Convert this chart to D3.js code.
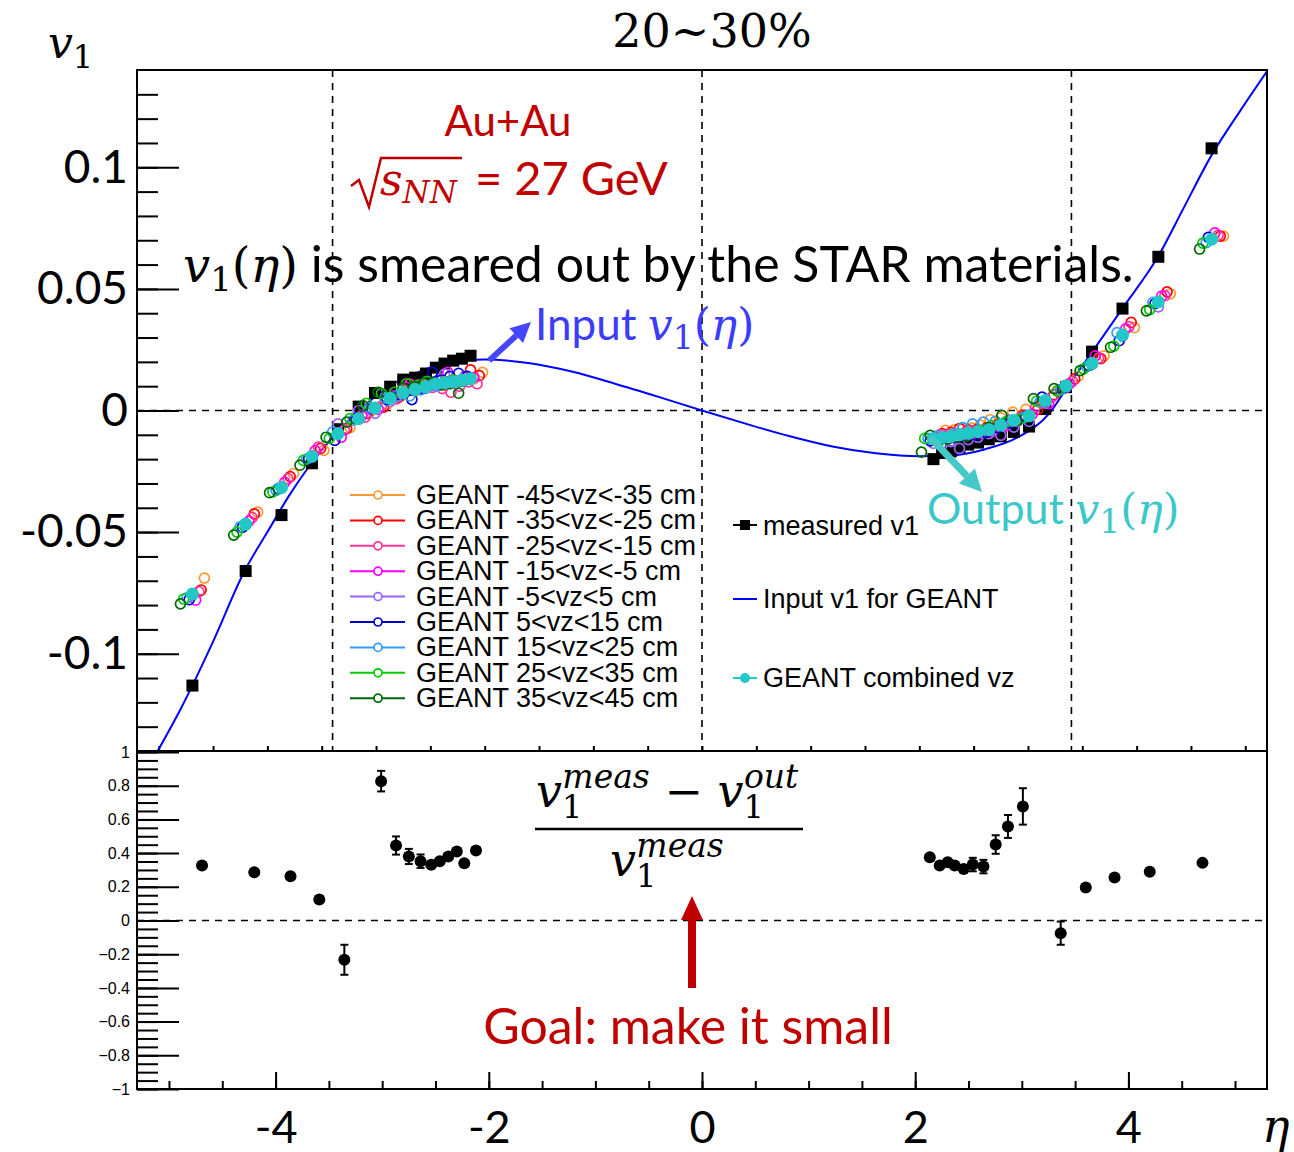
<!DOCTYPE html>
<html>
<head>
<meta charset="utf-8">
<script src="https://cdn.jsdelivr.net/npm/d3@7"></script>
<style>
  body { margin: 0; background: #fff; }
  svg { display: block; }
</style>
</head>
<body>
<svg id="chart" width="1294" height="1152"></svg>
<script>
// ---------- data ----------

// eta bins of the measured / GEANT points (left and right acceptance)
const etaBins = [-4.69, -4.20, -3.87, -3.59, -3.35, -3.16, -3.01, -2.87, -2.75, -2.64, -2.54, -2.45, -2.37, -2.29, -2.21, -2.13,
  2.13, 2.21, 2.29, 2.37, 2.45, 2.54, 2.64, 2.75, 2.87, 3.01, 3.16, 3.35, 3.59, 3.87, 4.20, 4.69];

const measuredV1 = [-0.1131, -0.0660, -0.0430, -0.0217, -0.0077, 0.0016, 0.0072, 0.0098, 0.0127, 0.0135, 0.0152, 0.0176, 0.0193, 0.0205, 0.0213, 0.0225,
  -0.0200, -0.0175, -0.0168, -0.0150, -0.0140, -0.0132, -0.0118, -0.0106, -0.0088, -0.0066, 0.0006, 0.0096, 0.0242, 0.0419, 0.0632, 0.1078];

const combinedV1 = [-0.0754, -0.0467, -0.0316, -0.0189, -0.0095, -0.0034, 0.0010, 0.0050, 0.0073, 0.0086, 0.0098, 0.0109, 0.0114, 0.0118, 0.0125, 0.0131,
  -0.0115, -0.0111, -0.0107, -0.0099, -0.0094, -0.0087, -0.0079, -0.0060, -0.0040, -0.0022, 0.0041, 0.0102, 0.0194, 0.0310, 0.0447, 0.0704];

const vzLabels = ['GEANT -45<vz<-35 cm', 'GEANT -35<vz<-25 cm', 'GEANT -25<vz<-15 cm', 'GEANT -15<vz<-5 cm',
  'GEANT -5<vz<5 cm', 'GEANT 5<vz<15 cm', 'GEANT 15<vz<25 cm', 'GEANT 25<vz<35 cm', 'GEANT 35<vz<45 cm'];

// each vz window lands at a slightly shifted eta
const vzEtaShift = [0.11, 0.08, 0.06, 0.03, 0.0, -0.03, -0.05, -0.08, -0.11];

// v1 per vz window, in units of 1e-4, one value per eta bin
const vzOrange = [-689, -418, -260, -164, -70, -5, 25, 62, 80, 95, 108, 118, 120, 125, 130, 157,
  -82, -80, -75, -72, -60, -38, -30, -7, 5, 30, 82, 140, 225, 341, 480, 717];
const vzRed = [-738, -425, -272, -156, -74, -12, 14, 55, 85, 100, 112, 105, 118, 128, 167, 143,
  -95, -90, -74, -80, -78, -70, -58, -40, -20, 5, 65, 130, 213, 362, 488, 717];
const vzPink = [-745, -440, -280, -150, -80, -27, 18, 48, 109, 90, 95, 90, 75, 100, 118, 110,
  -100, -98, -95, -88, -85, -80, -72, -55, -30, 14, 55, 120, 215, 345, 472, 720];
const vzMagenta = [-780, -455, -295, -165, -110, -20, 5, 60, 95, 105, 100, 125, 157, 120, 140, 135,
  -110, -108, -112, -100, -98, -92, -85, -65, -45, -15, 28, 110, 225, 336, 470, 730];
const vzViolet = [-760, -470, -318, -185, -55, 0, -12, 38, 70, 88, 92, 100, 150, 125, 120, 128,
  -135, -140, -128, -156, -120, -110, -95, -102, -68, -45, 30, 95, 190, 305, 426, 705];
const vzBlue = [-778, -480, -322, -198, -123, -33, 8, 45, 65, 45, 90, 157, 125, 140, 153, 140,
  -125, -122, -118, -110, -105, -100, -90, -70, -52, -25, 55, 90, 185, 287, 440, 712];
const vzAzure = [-770, -478, -328, -200, -89, -40, 12, 52, 60, 60, 85, 102, 105, 110, 112, 125,
  -115, -105, -110, -95, -70, -55, -48, -45, -40, -30, 35, 85, 180, 320, 445, 690];
const vzGreen = [-775, -500, -335, -205, -115, -33, 29, 70, 75, 110, 102, 120, 110, 118, 125, 120,
  -115, -120, -112, -105, -100, -95, -82, -62, -48, -35, 38, 80, 170, 265, 415, 688];
const vzDarkGreen = [-795, -512, -338, -225, -110, -48, 20, 75, 55, 92, 98, 112, 115, 105, 110, 71,
  -171, -102, -125, -118, -110, -105, -88, -70, -20, -42, 49, 90, 164, 260, 410, 664];
const vzSeries = [vzOrange, vzRed, vzPink, vzMagenta, vzViolet, vzBlue, vzAzure, vzGreen, vzDarkGreen];

// input v1(eta) curve given to GEANT
const inputEta = [-5.01, -4.79, -4.69, -4.50, -4.21, -4.00, -3.80, -3.60, -3.40, -3.20, -3.00, -2.80, -2.60, -2.40, -2.20, -2.00,
  -1.60, -1.20, -0.80, -0.40, 0.00, 0.40, 0.80, 1.20, 1.60, 2.00, 2.30, 2.60, 2.90, 3.20, 3.36, 3.59, 3.87, 4.20, 4.43, 4.69, 4.95, 5.20];
const inputV1 = [-0.140, -0.122, -0.113, -0.095, -0.066, -0.050, -0.035, -0.022, -0.011, -0.002, 0.006, 0.012, 0.016, 0.019, 0.0205, 0.0210,
  0.0195, 0.0160, 0.0110, 0.0056, 0.0000, -0.0054, -0.0105, -0.0148, -0.0176, -0.0188, -0.0184, -0.0160, -0.0112, -0.0010, 0.0095, 0.0240, 0.0420, 0.0635, 0.0830, 0.1050, 0.1230, 0.1395];

// (meas - out) / meas
const ratioEta = [-4.69, -4.20, -3.86, -3.59, -3.355, -3.01, -2.87, -2.75, -2.64, -2.54, -2.46, -2.38, -2.30, -2.23, -2.12,
  2.137, 2.23, 2.305, 2.37, 2.455, 2.54, 2.64, 2.755, 2.87, 3.01, 3.365, 3.60, 3.87, 4.20, 4.695];
const ratioVal = [0.326, 0.287, 0.263, 0.125, -0.233, 0.827, 0.445, 0.380, 0.352, 0.331, 0.352, 0.380, 0.410, 0.340, 0.415,
  0.376, 0.326, 0.346, 0.326, 0.306, 0.332, 0.320, 0.451, 0.558, 0.677, -0.075, 0.196, 0.255, 0.289, 0.342];
const ratioErr = [0.004, 0.004, 0.004, 0.005, 0.089, 0.061, 0.054, 0.045, 0.040, 0.030, 0.022, 0.016, 0.012, 0.010, 0.010,
  0.010, 0.030, 0.030, 0.022, 0.030, 0.040, 0.040, 0.055, 0.068, 0.108, 0.069, 0.006, 0.006, 0.006, 0.006];

// dashed reference lines
const etaCuts = [-3.4, 0, 3.4];

// axis ticks
const topYMajor = [-0.1, -0.05, 0, 0.05, 0.1];
const topYLabels = ['-0.1', '-0.05', '0', '0.05', '0.1'];
const botYMajor = [-1, -0.8, -0.6, -0.4, -0.2, 0, 0.2, 0.4, 0.6, 0.8, 1];
const botYLabels = ['\u22121', '\u22120.8', '\u22120.6', '\u22120.4', '\u22120.2', '0', '0.2', '0.4', '0.6', '0.8', '1'];
const xMajor = [-4, -2, 0, 2, 4];
const xLabels = ['-4', '-2', '0', '2', '4'];

// ---------- styles ----------
const vzColors = ['#ff9933', '#ff0000', '#ff3399', '#ff00ff', '#9966ff', '#0000cc', '#3399ff', '#00cc00', '#006600'];
const cyan = '#22c8c8';
const darkRed = '#c00000';
const sansCal = 'Lato, "Open Sans", sans-serif';
const sansRoot = '"Liberation Sans", Arial, sans-serif';
const mathFont = '"DejaVu Serif", serif';

const svg = d3.select('#chart');
const frame = { left: 137, right: 1267, top: 70, mid: 751, bottom: 1089 };

const xTop = d3.scaleLinear().domain([-5.2, 5.2]).range([frame.left, frame.right]);
const yTop = d3.scaleLinear().domain([-0.14, 0.14]).range([frame.mid, frame.top]);
const xBot = d3.scaleLinear().domain([-5.3, 5.3]).range([frame.left, frame.right]);
const yBot = d3.scaleLinear().domain([-1, 1]).range([frame.bottom, frame.mid + 1]);

svg.append('rect').attr('width', 1294).attr('height', 1152).attr('fill', '#fff');

svg.append('clipPath').attr('id', 'clipTop')
  .append('rect')
  .attr('x', frame.left).attr('y', frame.top)
  .attr('width', frame.right - frame.left).attr('height', frame.mid - frame.top);

// ---------- top panel axes ----------
const topAxes = svg.append('g');

// left axis, minor ticks every 0.01
topAxes.append('g')
  .attr('transform', `translate(${frame.left},0)`)
  .call(d3.axisLeft(yTop).tickValues(d3.range(-13, 14).map(d => d / 100)).tickSize(-21).tickFormat(''))
  .call(g => g.select('.domain').remove());

topAxes.append('g')
  .attr('transform', `translate(${frame.left},0)`)
  .call(d3.axisLeft(yTop).tickValues(topYMajor).tickSize(-42).tickPadding(9)
    .tickFormat((d, i) => topYLabels[i]))
  .call(g => g.select('.domain').remove())
  .call(g => g.selectAll('text').attr('font-family', sansCal).attr('font-size', 46).attr('fill', '#000'));

// small ticks along the lower edge of the top pad
topAxes.append('g')
  .attr('transform', `translate(0,${frame.mid})`)
  .call(d3.axisBottom(xTop).tickValues(d3.range(-10, 11).map(d => d / 2)).tickSize(-5).tickFormat(''))
  .call(g => g.select('.domain').remove());

topAxes.selectAll('.tick line').attr('stroke', '#000').attr('stroke-width', 2);

// ---------- top panel reference lines ----------
const refs = svg.append('g').attr('stroke', '#000').attr('stroke-width', 1.6).attr('stroke-dasharray', '7,6');
refs.selectAll('line.v')
  .data(etaCuts)
  .join('line')
  .attr('class', 'v')
  .attr('x1', d => xTop(d)).attr('x2', d => xTop(d))
  .attr('y1', yTop(0.14)).attr('y2', yTop(-0.14));
refs.append('line')
  .attr('x1', frame.left).attr('x2', frame.right)
  .attr('y1', yTop(0)).attr('y2', yTop(0));

// ---------- top panel data ----------
const plot = svg.append('g').attr('clip-path', 'url(#clipTop)');

const inputLine = d3.line()
  .x(d => xTop(d[0]))
  .y(d => yTop(d[1]))
  .curve(d3.curveMonotoneX);

plot.append('path')
  .datum(d3.zip(inputEta, inputV1))
  .attr('d', inputLine)
  .attr('fill', 'none')
  .attr('stroke', '#0000ff')
  .attr('stroke-width', 2);

plot.selectAll('rect.meas')
  .data(d3.zip(etaBins, measuredV1))
  .join('rect')
  .attr('class', 'meas')
  .attr('x', d => xTop(d[0]) - 6)
  .attr('y', d => yTop(d[1]) - 6)
  .attr('width', 12).attr('height', 12)
  .attr('fill', '#000');

vzSeries.forEach((vals, k) => {
  plot.append('g')
    .selectAll('circle')
    .data(d3.zip(etaBins, vals))
    .join('circle')
    .attr('cx', d => xTop(d[0] + vzEtaShift[k]))
    .attr('cy', d => yTop(d[1] / 1e4))
    .attr('r', 5)
    .attr('fill', 'none')
    .attr('stroke', vzColors[k])
    .attr('stroke-width', 1.7);
});

plot.selectAll('circle.comb')
  .data(d3.zip(etaBins, combinedV1))
  .join('circle')
  .attr('class', 'comb')
  .attr('cx', d => xTop(d[0]))
  .attr('cy', d => yTop(d[1]))
  .attr('r', 6.5)
  .attr('fill', cyan);

// ---------- bottom panel ----------
const botAxes = svg.append('g');

botAxes.append('g')
  .attr('transform', `translate(${frame.left},0)`)
  .call(d3.axisLeft(yBot).tickValues(d3.range(-20, 21).map(d => d / 20)).tickSize(-21).tickFormat(''))
  .call(g => g.select('.domain').remove());

botAxes.append('g')
  .attr('transform', `translate(${frame.left},0)`)
  .call(d3.axisLeft(yBot).tickValues(botYMajor).tickSize(-42).tickPadding(7)
    .tickFormat((d, i) => botYLabels[i]))
  .call(g => g.select('.domain').remove())
  .call(g => g.selectAll('text').attr('font-family', sansRoot).attr('font-size', 16).attr('fill', '#000'));

botAxes.append('g')
  .attr('transform', `translate(0,${frame.bottom})`)
  .call(d3.axisBottom(xBot).tickValues(d3.range(-10, 11).map(d => d / 2)).tickSize(-8).tickFormat(''))
  .call(g => g.select('.domain').remove());

botAxes.append('g')
  .attr('transform', `translate(0,${frame.bottom})`)
  .call(d3.axisBottom(xBot).tickValues(xMajor).tickSize(-17).tickPadding(22)
    .tickFormat((d, i) => xLabels[i]))
  .call(g => g.select('.domain').remove())
  .call(g => g.selectAll('text').attr('font-family', sansCal).attr('font-size', 45).attr('fill', '#000'));

botAxes.selectAll('.tick line').attr('stroke', '#000').attr('stroke-width', 2);

svg.append('line')
  .attr('x1', frame.left).attr('x2', frame.right)
  .attr('y1', yBot(0)).attr('y2', yBot(0))
  .attr('stroke', '#000').attr('stroke-width', 1.6).attr('stroke-dasharray', '7,6');

const ratioPts = d3.zip(ratioEta, ratioVal, ratioErr);
const errG = svg.append('g').attr('stroke', '#000').attr('stroke-width', 2);
errG.selectAll('line.bar')
  .data(ratioPts.filter(d => d[2] * 168 > 6))
  .join('line')
  .attr('class', 'bar')
  .attr('x1', d => xBot(d[0])).attr('x2', d => xBot(d[0]))
  .attr('y1', d => yBot(d[1] - d[2])).attr('y2', d => yBot(d[1] + d[2]));
errG.selectAll('line.cap')
  .data(ratioPts.filter(d => d[2] * 168 > 6).flatMap(d => [[d[0], d[1] - d[2]], [d[0], d[1] + d[2]]]))
  .join('line')
  .attr('class', 'cap')
  .attr('x1', d => xBot(d[0]) - 4).attr('x2', d => xBot(d[0]) + 4)
  .attr('y1', d => yBot(d[1])).attr('y2', d => yBot(d[1]));

svg.append('g')
  .selectAll('circle')
  .data(ratioPts)
  .join('circle')
  .attr('cx', d => xBot(d[0]))
  .attr('cy', d => yBot(d[1]))
  .attr('r', 6)
  .attr('fill', '#000');

// ---------- frames ----------
svg.append('rect')
  .attr('x', frame.left).attr('y', frame.top)
  .attr('width', frame.right - frame.left).attr('height', frame.mid - frame.top)
  .attr('fill', 'none').attr('stroke', '#000').attr('stroke-width', 2);
svg.append('rect')
  .attr('x', frame.left).attr('y', frame.mid)
  .attr('width', frame.right - frame.left).attr('height', frame.bottom - frame.mid)
  .attr('fill', 'none').attr('stroke', '#000').attr('stroke-width', 2);

// ---------- legends ----------
const legL = svg.append('g');
vzLabels.forEach((lab, k) => {
  const y = 495 + k * 25.4;
  legL.append('line').attr('x1', 350).attr('x2', 405).attr('y1', y).attr('y2', y)
    .attr('stroke', vzColors[k]).attr('stroke-width', 2);
  legL.append('circle').attr('cx', 378).attr('cy', y).attr('r', 4)
    .attr('fill', '#fff').attr('stroke', vzColors[k]).attr('stroke-width', 1.7);
  legL.append('text').attr('x', 416).attr('y', y + 9)
    .attr('font-family', sansRoot).attr('font-size', 27).text(lab);
});

const legR = svg.append('g');
legR.append('line').attr('x1', 733).attr('x2', 757).attr('y1', 525).attr('y2', 525).attr('stroke', '#000').attr('stroke-width', 2);
legR.append('rect').attr('x', 740).attr('y', 520).attr('width', 10).attr('height', 10).attr('fill', '#000');
legR.append('text').attr('x', 763).attr('y', 535).attr('font-family', sansRoot).attr('font-size', 27).text('measured v1');
legR.append('line').attr('x1', 733).attr('x2', 757).attr('y1', 599).attr('y2', 599).attr('stroke', '#0000ff').attr('stroke-width', 2);
legR.append('text').attr('x', 763).attr('y', 608).attr('font-family', sansRoot).attr('font-size', 27).text('Input v1 for GEANT');
legR.append('line').attr('x1', 733).attr('x2', 757).attr('y1', 678).attr('y2', 678).attr('stroke', cyan).attr('stroke-width', 2);
legR.append('circle').attr('cx', 745).attr('cy', 678).attr('r', 5).attr('fill', cyan);
legR.append('text').attr('x', 763).attr('y', 687).attr('font-family', sansRoot).attr('font-size', 27).text('GEANT combined vz');

// ---------- annotations ----------
function arrow(x1, y1, x2, y2, color, w, headL, headW) {
  const a = Math.atan2(y2 - y1, x2 - x1);
  const bx = x2 - headL * Math.cos(a), by = y2 - headL * Math.sin(a);
  const nx = -Math.sin(a), ny = Math.cos(a);
  svg.append('line').attr('x1', x1).attr('y1', y1).attr('x2', bx).attr('y2', by)
    .attr('stroke', color).attr('stroke-width', w);
  svg.append('path')
    .attr('d', `M${x2},${y2}L${bx + nx * headW / 2},${by + ny * headW / 2}L${bx - nx * headW / 2},${by - ny * headW / 2}Z`)
    .attr('fill', color);
}

// math-ish text helper: parts = [{t, italic, size, dy, dx, font}]
function richText(x, y, parts, opts) {
  const t = svg.append('text').attr('x', x).attr('y', y)
    .attr('fill', opts.fill || '#000')
    .attr('font-family', opts.font || sansCal)
    .attr('font-size', opts.size)
    .attr('text-anchor', opts.anchor || 'start');
  parts.forEach(p => {
    const s = t.append('tspan').text(p.t);
    if (p.font) s.attr('font-family', p.font);
    if (p.italic) s.attr('font-style', 'italic');
    if (p.size) s.attr('font-size', p.size);
    if (p.dy) s.attr('dy', p.dy);
    if (p.dx) s.attr('dx', p.dx);
  });
  return t;
}

// axis titles
richText(48, 58, [
  { t: 'v', italic: true, font: mathFont },
  { t: '1', font: mathFont, size: 32, dy: 10 }
], { size: 44 });
richText(1262, 1142, [{ t: '\u03b7', italic: true, font: mathFont }], { size: 46 });

svg.append('text').attr('x', 712).attr('y', 47).attr('text-anchor', 'middle')
  .attr('font-family', mathFont).attr('font-size', 46).text('20~30%');

// collision label
svg.append('text').attr('x', 508).attr('y', 136).attr('text-anchor', 'middle')
  .attr('font-family', sansCal).attr('font-size', 42).attr('fill', darkRed).text('Au+Au');
svg.append('path')
  .attr('d', 'M351,186L359,180L369,207L381,158L462,158')
  .attr('fill', 'none').attr('stroke', darkRed).attr('stroke-width', 2.5);
richText(380, 195, [
  { t: 's', italic: true, font: mathFont, size: 44 },
  { t: 'NN', italic: true, font: mathFont, size: 31, dy: 8 },
  { t: ' = 27 GeV', dy: -8, dx: 6 }
], { size: 47, fill: darkRed });

richText(183, 282, [
  { t: 'v', italic: true, font: mathFont, size: 48 },
  { t: '1', font: mathFont, size: 34, dy: 9 },
  { t: '(', font: mathFont, size: 48, dy: -9 },
  { t: '\u03b7', italic: true, font: mathFont, size: 48 },
  { t: ')', font: mathFont, size: 48 },
  { t: ' is smeared out by the STAR materials.' }
], { size: 50 });

richText(535, 340, [
  { t: 'Input ' },
  { t: 'v', italic: true, font: mathFont },
  { t: '1', font: mathFont, size: 33, dy: 9 },
  { t: '(', font: mathFont, dy: -9 },
  { t: '\u03b7', italic: true, font: mathFont },
  { t: ')', font: mathFont }
], { size: 44, fill: '#3c3cff' });
arrow(xTop(-1.96), yTop(0.0205), 531, 322, '#4646ff', 6, 20, 20);

richText(927, 524, [
  { t: 'Output ' },
  { t: 'v', italic: true, font: mathFont },
  { t: '1', font: mathFont, size: 33, dy: 9 },
  { t: '(', font: mathFont, dy: -9 },
  { t: '\u03b7', italic: true, font: mathFont },
  { t: ')', font: mathFont }
], { size: 43, fill: '#3cc8c8' });
arrow(xTop(2.1), yTop(-0.011), 982, 492, '#44c8c8', 7, 22, 22);

// ratio formula
richText(536, 807, [
  { t: 'v', italic: true, font: mathFont },
  { t: '1', font: mathFont, size: 32, dy: 11 },
  { t: 'meas', italic: true, font: mathFont, size: 33, dy: -30, dx: -20 },
  { t: ' \u2212 ', font: mathFont, dy: 19 },
  { t: 'v', italic: true, font: mathFont },
  { t: '1', font: mathFont, size: 32, dy: 11 },
  { t: 'out', italic: true, font: mathFont, size: 33, dy: -30, dx: -20 }
], { size: 46 });
svg.append('line').attr('x1', 535).attr('x2', 803).attr('y1', 829).attr('y2', 829)
  .attr('stroke', '#000').attr('stroke-width', 2.5);
richText(610, 876, [
  { t: 'v', italic: true, font: mathFont },
  { t: '1', font: mathFont, size: 32, dy: 11 },
  { t: 'meas', italic: true, font: mathFont, size: 33, dy: -30, dx: -20 }
], { size: 46 });

arrow(692, 988, 692, 896, darkRed, 8, 24, 22);
svg.append('text').attr('x', 688).attr('y', 1044).attr('text-anchor', 'middle')
  .attr('font-family', sansCal).attr('font-size', 50).attr('fill', darkRed).text('Goal: make it small');
</script>
</body>
</html>
